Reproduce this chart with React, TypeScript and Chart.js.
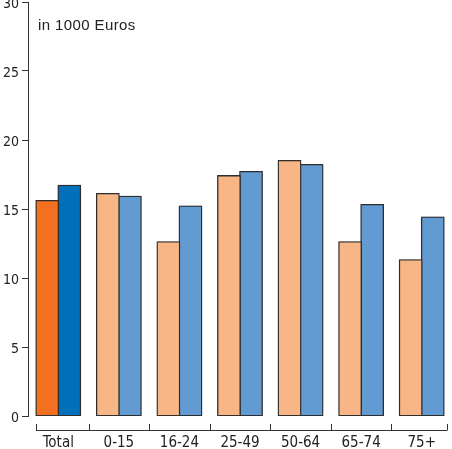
import React, { useEffect, useRef } from "react";
import { Chart, registerables } from "chart.js";

Chart.register(...registerables);

const categories = ["Total", "0-15", "16-24", "25-49", "50-64", "65-74", "75+"];
const seriesA = [15.6, 16.1, 12.6, 17.4, 18.5, 12.6, 11.3];
const seriesB = [16.7, 15.9, 15.2, 17.7, 18.2, 15.3, 14.4];
const yTicks = [0, 5, 10, 15, 20, 25, 30];
const unitLabel = "in 1000 Euros";

const orangeDark = "#F37021";
const orangeLight = "#F8B585";
const blueDark = "#0070BA";
const blueLight = "#629AD2";
const ink = "#333333";
const tickFont = "'Liberation Sans Narrow', 'DejaVu Sans Condensed', 'Arial Narrow', sans-serif";

const xAxisLinePlugin = {
  id: "xAxisLine",
  afterDraw(chart: any) {
    const ctx = chart.ctx;
    const x = chart.scales.x;
    const area = chart.chartArea;
    const n = categories.length;
    const y = area.bottom + 14;
    const xs: number[] = [];
    for (let i = 0; i <= n; i++) xs.push(x.getPixelForValue(i - 0.5));
    xs[0] = xs[0] + 8;
    xs[n] = xs[n] - 5;
    ctx.save();
    ctx.strokeStyle = ink;
    ctx.lineWidth = 1;
    ctx.beginPath();
    ctx.moveTo(xs[0], y + 0.5);
    ctx.lineTo(xs[n], y + 0.5);
    for (const px of xs) {
      const p = Math.round(px) + 0.5;
      ctx.moveTo(p, y + 0.5);
      ctx.lineTo(p, y - 6);
    }
    ctx.stroke();
    ctx.restore();
  },
};

const shadowPlugin = {
  id: "barShadow",
  beforeDatasetsDraw(chart: any) {
    const ctx = chart.ctx;
    ctx.save();
    ctx.shadowColor = "rgba(0,0,0,0.3)";
    ctx.shadowBlur = 2;
    ctx.shadowOffsetX = 0;
    ctx.shadowOffsetY = 0;
  },
  afterDatasetsDraw(chart: any) {
    chart.ctx.restore();
  },
};

export default function App() {
  const canvasRef = useRef<HTMLCanvasElement | null>(null);

  useEffect(() => {
    if (!canvasRef.current) return;
    const barCommon = {
      borderColor: ink,
      borderWidth: 1.3,
      borderSkipped: false,
      inflateAmount: 0.8,
      categoryPercentage: 0.73,
      barPercentage: 1.0,
    };
    const chart = new Chart(canvasRef.current, {
      type: "bar",
      data: {
        labels: categories,
        datasets: [
          {
            ...barCommon,
            data: seriesA,
            backgroundColor: categories.map((_, i) => (i === 0 ? orangeDark : orangeLight)),
          },
          {
            ...barCommon,
            data: seriesB,
            backgroundColor: categories.map((_, i) => (i === 0 ? blueDark : blueLight)),
          },
        ],
      },
      options: {
        responsive: false,
        animation: false,
        layout: { padding: { top: 2, left: 0, right: 0, bottom: 0 } },
        plugins: {
          legend: { display: false },
          tooltip: { enabled: false },
          title: { display: false },
        },
        scales: {
          x: {
            offset: true,
            grid: { display: false, drawTicks: false },
            border: { display: false },
            ticks: {
              color: "#222",
              padding: 18,
              font: { family: tickFont, size: 15 },
              maxRotation: 0,
              autoSkip: false,
            },
            afterFit: (s: any) => {
              s.height = 33;
              s.paddingLeft = 0;
              s.paddingRight = 0;
            },
          },
          y: {
            min: 0,
            max: 30,
            afterBuildTicks: (s: any) => {
              s.ticks = yTicks.map((v) => ({ value: v }));
            },
            grid: {
              drawOnChartArea: false,
              drawTicks: true,
              tickLength: 6,
              color: ink,
              lineWidth: 1,
            },
            border: { display: true, color: ink, width: 1 },
            ticks: {
              color: "#222",
              padding: 3,
              labelOffset: 2,
              font: { family: tickFont, size: 14 },
            },
            afterFit: (s: any) => {
              s.width = 28;
              s.paddingTop = 0;
              s.paddingBottom = 0;
            },
          },
        },
      },
      plugins: [shadowPlugin, xAxisLinePlugin],
    });
    return () => chart.destroy();
  }, []);

  return (
    <div style={{ position: "fixed", left: 0, top: 0, width: 452, height: 449, background: "#fff" }}>
      <canvas ref={canvasRef} width={452} height={449} style={{ display: "block" }} />
      <div
        style={{
          position: "absolute",
          left: 38,
          top: 16,
          fontFamily: "'Liberation Sans', Arial, sans-serif",
          fontSize: 15,
          letterSpacing: "0.4px",
          lineHeight: "18px",
          color: "#222",
          whiteSpace: "nowrap",
        }}
      >
        {unitLabel}
      </div>
    </div>
  );
}
